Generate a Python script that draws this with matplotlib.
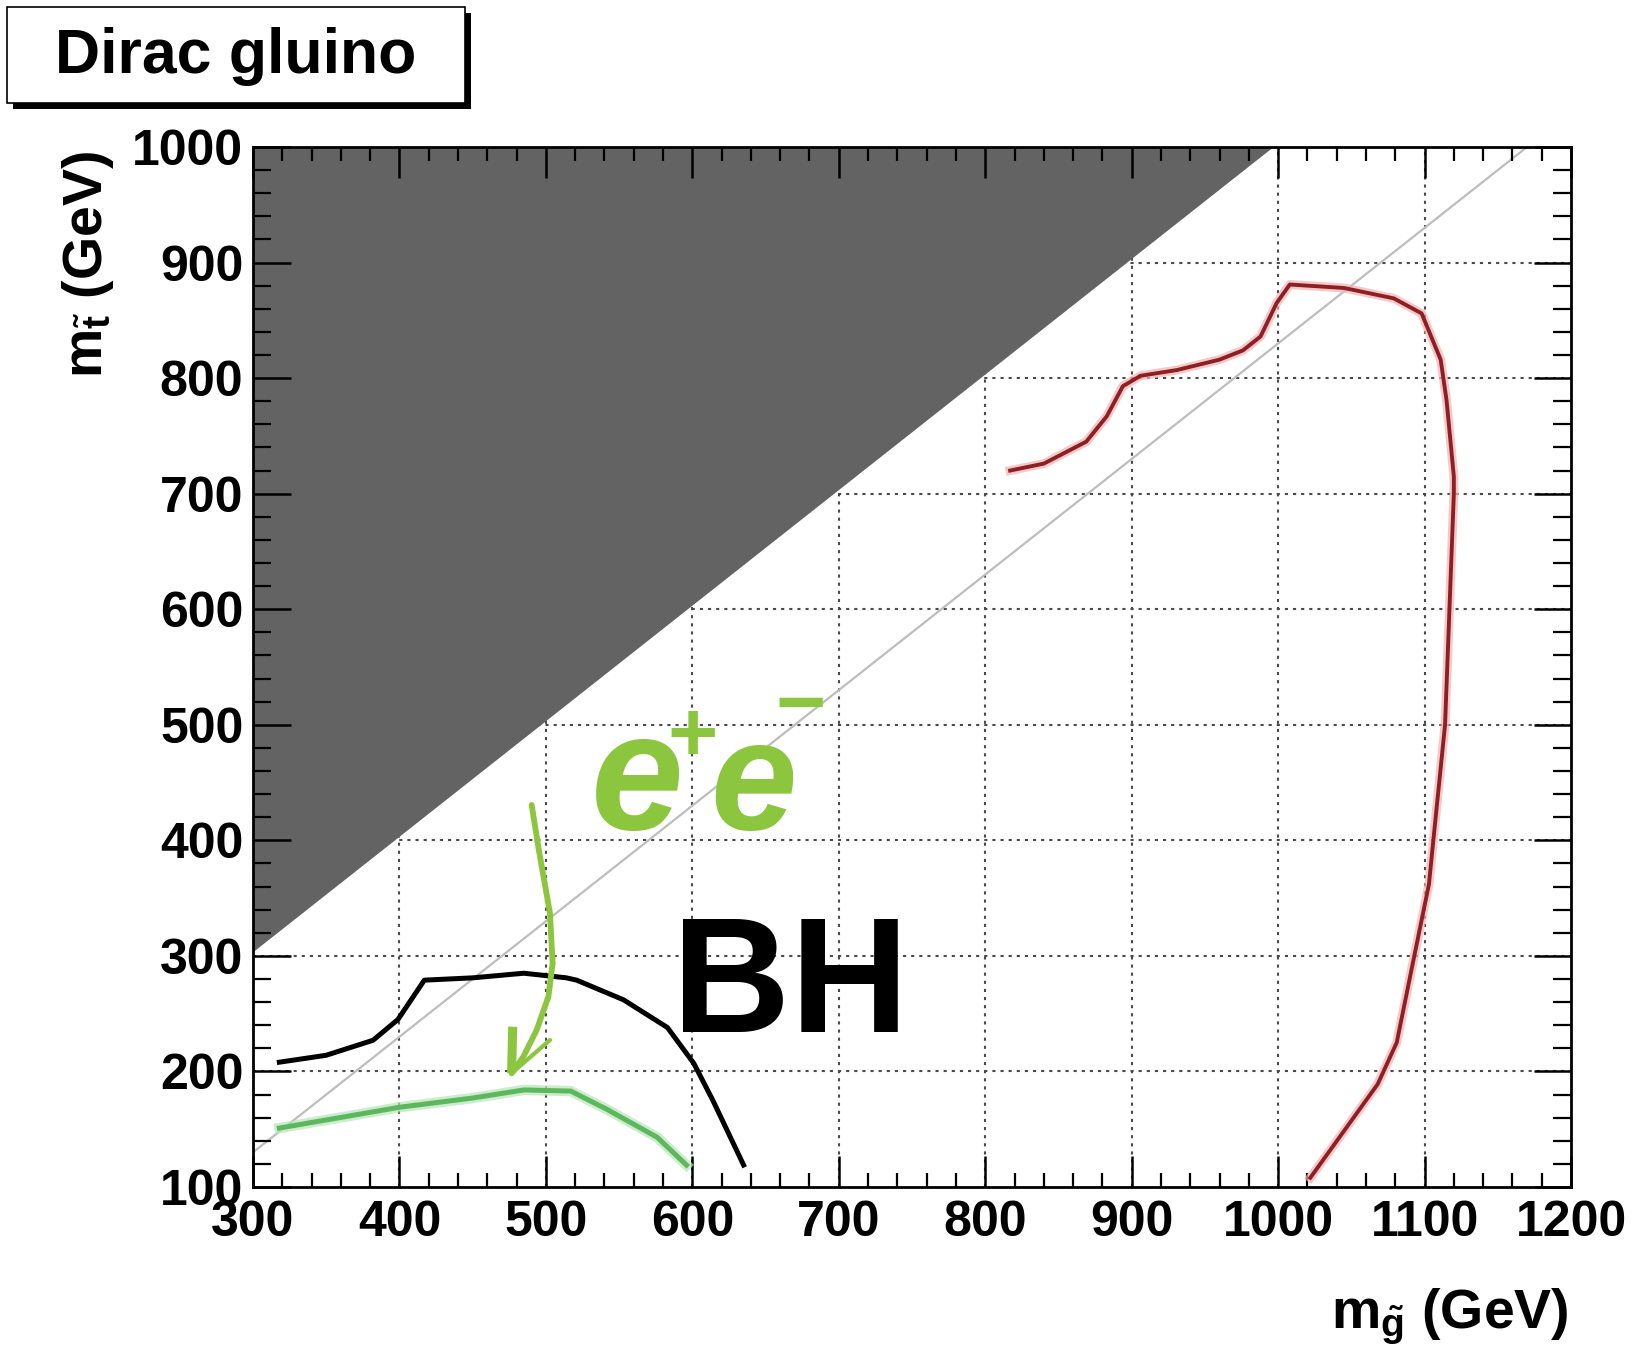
import matplotlib
matplotlib.use("Agg")
import matplotlib.pyplot as plt
from matplotlib.patches import Rectangle

# ---------------------------------------------------------------- data
x_ticks = [300, 400, 500, 600, 700, 800, 900, 1000, 1100, 1200]
y_ticks = [100, 200, 300, 400, 500, 600, 700, 800, 900, 1000]

# kinematically forbidden region (m_stop > m_gluino)
excluded_x = [300, 997, 300]
excluded_y = [303, 1000, 1000]

# m_stop = m_gluino - m_top reference line
diag_x = [300, 1170]
diag_y = [130, 1000]

# BH contour
bh_x = [318, 350, 382, 399, 417, 450, 485, 514, 521, 553, 583, 601, 614, 635]
bh_y = [208, 214, 227, 245, 279, 281, 285, 281, 279, 262, 238, 207, 175, 119]

# e+e- contour
ee_x = [318, 400, 450, 485, 517, 542, 576, 596]
ee_y = [151, 169, 177, 184, 183, 167, 143, 119]

# outer (red) contour
red_x = [817, 840, 869, 883, 894, 906, 931, 960, 976, 988, 999, 1008, 1045,
         1079, 1098, 1111, 1115, 1120, 1120, 1117, 1114, 1106, 1103, 1093,
         1081, 1068, 1022]
red_y = [720, 726, 745, 767, 793, 802, 807, 816, 824, 836, 865, 881, 878,
         869, 856, 816, 781, 715, 700, 600, 500, 400, 362, 300, 225, 189, 108]

# hand-drawn arrow pointing from the e+e- label to its contour
arrow_x = [490.3, 494.8, 502.8, 504.6, 501.7, 493.7, 484.6, 476.6]
arrow_y = [430.6, 394.5, 336.8, 293.6, 264.7, 235.9, 212.8, 198.4]
arrow_tip = (476.6, 198.4)
arrow_left = (477.3, 238.7)
arrow_right = (502.8, 227.2)

title_text = "Dirac gluino"
xlabel_text = r"m$_{\mathrm{\tilde{g}}}$ (GeV)"
ylabel_text = r"m$_{\mathrm{\tilde{t}}}$ (GeV)"

# ---------------------------------------------------------------- fonts
plt.rcParams["font.family"] = ["Liberation Sans", "DejaVu Sans"]
plt.rcParams["font.weight"] = "bold"
plt.rcParams["mathtext.fontset"] = "custom"
plt.rcParams["mathtext.rm"] = "Liberation Sans:bold"
plt.rcParams["mathtext.bf"] = "Liberation Sans:bold"
plt.rcParams["mathtext.it"] = "Liberation Sans:bold:italic"

W, H = 1635, 1357
fig = plt.figure(figsize=(W / 100, H / 100), dpi=100)
ax = fig.add_axes([253 / W, 1 - 1187 / H, (1571 - 253) / W, (1187 - 147) / H])

ax.set_xlim(300, 1200)
ax.set_ylim(100, 1000)

# dotted grid, kept under the shaded region
grid_kw = dict(color="#4a4a4a", lw=1.5, ls=(0, (1.5, 2.4)), zorder=0.8)
for v in x_ticks[1:-1]:
    ax.axvline(v, **grid_kw)
for v in y_ticks[1:-1]:
    ax.axhline(v, **grid_kw)

ax.fill(excluded_x, excluded_y, color="#636363", lw=0, zorder=1.2)
ax.plot(diag_x, diag_y, color="#bdbdbd", lw=1.6, zorder=1.3)

# contours
ax.plot(bh_x, bh_y, color="black", lw=3.6, zorder=3, solid_joinstyle="round")
ax.plot(ee_x, ee_y, color="#b9e3b9", lw=7.5, alpha=0.7, zorder=2.9,
        solid_joinstyle="round")
ax.plot(ee_x, ee_y, color="#5cb85c", lw=3.6, zorder=3, solid_joinstyle="round")
ax.plot(red_x, red_y, color="#f3b3b3", lw=6.5, alpha=0.7, zorder=2.9,
        solid_joinstyle="round")
ax.plot(red_x, red_y, color="#8e1f25", lw=2.8, zorder=3, solid_joinstyle="round")

# arrow
lime = "#8cc63f"
ax.plot(arrow_x, arrow_y, color=lime, lw=4.2, zorder=4,
        solid_capstyle="round", solid_joinstyle="round")
ax.plot([arrow_tip[0], arrow_left[0]], [arrow_tip[1], arrow_left[1]],
        color=lime, lw=6.5, zorder=4, solid_capstyle="butt")
ax.plot([arrow_tip[0], arrow_right[0]], [arrow_tip[1], arrow_right[1]],
        color=lime, lw=3.0, zorder=4, solid_capstyle="round")

# e+e- label, set piece by piece
ee_kw = dict(color=lime, fontweight="bold", zorder=5, va="baseline")
ax.text(531, 410, "e", fontsize=120, style="italic", ha="left", **ee_kw)
ax.text(600, 469, "+", fontsize=62, ha="center", **ee_kw)
ax.text(612, 410, "e", fontsize=112, style="italic", ha="left", **ee_kw)
ax.text(674, 495, "\u2212", fontsize=62, ha="center", **ee_kw)

# BH label
ax.text(586, 234, "BH", color="black", fontsize=118, fontweight="bold",
        ha="left", va="baseline", zorder=5)

# ticks and frame
ax.set_xticks(x_ticks)
ax.set_yticks(y_ticks)
ax.set_xticks([v for v in range(300, 1201, 20) if v % 100], minor=True)
ax.set_yticks([v for v in range(100, 1001, 20) if v % 100], minor=True)
ax.tick_params(which="both", direction="in", top=True, right=True,
               labelsize=36, width=1.8, color="black")
ax.tick_params(axis="x", which="major", length=22, pad=9)
ax.tick_params(axis="x", which="minor", length=10, width=1.6)
ax.tick_params(axis="y", which="major", length=27, pad=7)
ax.tick_params(axis="y", which="minor", length=13, width=1.6)
for lab in ax.get_xticklabels() + ax.get_yticklabels():
    lab.set_fontweight("bold")
for sp in ax.spines.values():
    sp.set_linewidth(2.0)
    sp.set_zorder(6)

# axis titles
fig.text(1569 / W, 1 - 1328 / H, xlabel_text, fontsize=40, fontweight="bold",
         ha="right", va="baseline")
fig.text(88 / W, 1 - 151 / H, ylabel_text, fontsize=40, fontweight="bold",
         rotation=90, ha="center", va="top")

# title box with drop shadow
bx0, by0, bx1, by1 = 7, 7, 465, 103
fig.add_artist(Rectangle(((bx0 + 6) / W, 1 - (by1 + 6) / H),
                         (bx1 - bx0) / W, (by1 - by0) / H,
                         transform=fig.transFigure, facecolor="black",
                         edgecolor="none", zorder=1))
fig.add_artist(Rectangle((bx0 / W, 1 - by1 / H), (bx1 - bx0) / W, (by1 - by0) / H,
                         transform=fig.transFigure, facecolor="white",
                         edgecolor="black", lw=1.2, zorder=2))
fig.text((bx0 + bx1) / 2 / W, 1 - 73 / H, title_text, fontsize=45,
         fontweight="bold", ha="center", va="baseline", zorder=3)

fig.savefig("out.png", dpi=100)
